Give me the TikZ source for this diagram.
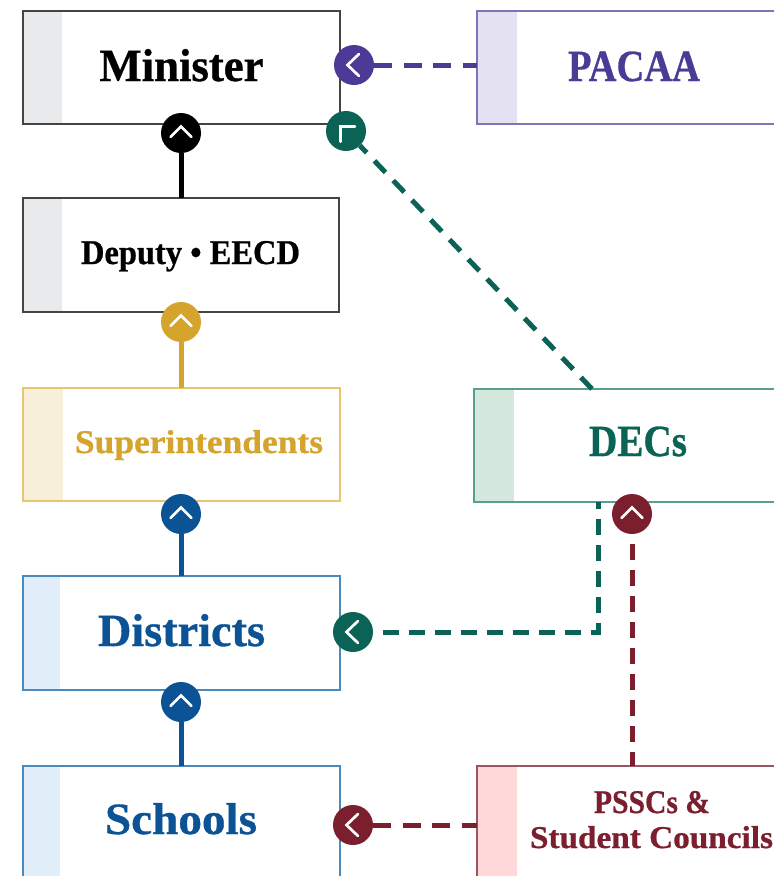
\documentclass[tikz,border=0pt]{standalone}
\usepackage{fontspec}
\usepackage{graphicx}
\setmainfont{Liberation Serif}[BoldFeatures={FakeBold=0.7}]
\definecolor{cblack}{HTML}{000000}
\definecolor{bblack}{HTML}{444444}
\definecolor{sblack}{HTML}{E9EAEC}
\definecolor{cpurple}{HTML}{4B3A96}
\definecolor{bpurple}{HTML}{7F74B5}
\definecolor{spurple}{HTML}{E3E1F2}
\definecolor{cgreen}{HTML}{0B6355}
\definecolor{bgreen}{HTML}{5A9E8E}
\definecolor{sgreen}{HTML}{D5E8DD}
\definecolor{cgold}{HTML}{D4A42C}
\definecolor{bgold}{HTML}{E6C670}
\definecolor{sgold}{HTML}{F7EFD9}
\definecolor{cblue}{HTML}{0B5394}
\definecolor{bblue}{HTML}{4A8BBF}
\definecolor{sblue}{HTML}{E2EEF9}
\definecolor{cmaroon}{HTML}{7B1F2E}
\definecolor{bmaroon}{HTML}{9B5560}
\definecolor{smaroon}{HTML}{FFD9D9}
\newcommand{\fitw}[3]{\resizebox{#1pt}{#2pt}{\bfseries #3}}
\newcommand{\chevup}[1]{\draw[chev] ([shift={(-10.5,4)}]#1.center) -- ([shift={(0,-6.5)}]#1.center) -- ([shift={(10.5,4)}]#1.center);}
\newcommand{\chevleft}[1]{\draw[chev] ([shift={(5,-11)}]#1.center) -- ([shift={(-6.5,0)}]#1.center) -- ([shift={(5,11)}]#1.center);}
\newcommand{\chevcorner}[1]{\draw[chev,line join=miter] ([shift={(-5.3,10.7)}]#1.center) -- ([shift={(-5.3,-4.3)}]#1.center) -- ([shift={(9,-4.3)}]#1.center);}
\tikzset{
  x=1pt,y=-1pt,
  boxnode/.style={draw=#1,rectangle,line width=1.1pt,anchor=north west,outer sep=0pt,inner sep=0pt},
  disc/.style={circle,fill=#1,minimum size=40pt,inner sep=0pt,outer sep=0pt},
  chev/.style={draw=white,line width=2.7pt,line cap=round,line join=miter},
  solidlink/.style={draw=#1,line width=5pt},
  dashlink/.style={draw=#1,line width=5pt,dash pattern=on 16pt off 10pt},
  dashdiag/.style={draw=#1,line width=5pt,dash pattern=on 16pt off 11.2pt,dash phase=6pt},
  dashwide/.style={draw=#1,line width=5pt,dash pattern=on 18pt off 11.5pt},
  label/.style={text=#1,inner sep=0pt,outer sep=0pt,anchor=base}
}
\begin{document}
\begin{tikzpicture}
\path[use as bounding box,clip] (0,0) rectangle (774,876);
\fill[white] (0,0) rectangle (774,876);
% strips
\fill[sblack] (23,11) rectangle (62,124);
\fill[spurple] (477,11) rectangle (517,124);
\fill[sblack] (23,198) rectangle (62,312);
\fill[sgold] (23,388) rectangle (63,501);
\fill[sgreen] (474,389) rectangle (514,502);
\fill[sblue] (23,576) rectangle (60,690);
\fill[sblue] (23,766) rectangle (60,900);
\fill[smaroon] (477,766) rectangle (517,900);
% boxes
\node[boxnode=bblack,minimum width=317pt,minimum height=113pt] (minister) at (23,11) {};
\node[boxnode=bpurple,minimum width=320pt,minimum height=113pt] (pacaa) at (477,11) {};
\node[boxnode=bblack,minimum width=316pt,minimum height=114pt] (deputy) at (23,198) {};
\node[boxnode=bgold,minimum width=317pt,minimum height=113pt] (super) at (23,388) {};
\node[boxnode=bgreen,minimum width=320pt,minimum height=113pt] (decs) at (474,389) {};
\node[boxnode=bblue,minimum width=317pt,minimum height=114pt] (districts) at (23,576) {};
\node[boxnode=bblue,minimum width=317pt,minimum height=134pt] (schools) at (23,766) {};
\node[boxnode=bmaroon,minimum width=320pt,minimum height=134pt] (pssc) at (477,766) {};
% labels
\node[label=black] (tminister) at (181.5,81) {\fitw{164}{32}{Minister}};
\node[label=cpurple] (tpacaa) at (634,81) {\fitw{132}{29.5}{PACAA}};
\node[label=black] (tdeputy) at (190.5,264) {\fitw{219}{23}{Deputy • EECD}};
\node[label=cgold] (tsuper) at (199,453) {\fitw{248}{23}{Superintendents}};
\node[label=cgreen] (tdecs) at (638,456) {\fitw{98}{29.5}{DECs}};
\node[label=cblue] (tdistricts) at (181.5,646) {\fitw{167}{32}{Districts}};
\node[label=cblue] (tschools) at (181,834) {\fitw{152}{31}{Schools}};
\node[label=cmaroon] (tpssc1) at (652,813) {\fitw{116}{22}{PSSCs \&}};
\node[label=cmaroon] (tpssc2) at (651.5,848) {\fitw{243}{22}{Student Councils}};
% badges
\node[disc=cpurple] (bpacaa) at (354,65) {};
\node[disc=cgreen] (bdec) at (346,131) {};
\node[disc=cblack] (bdep) at (181,133) {};
\node[disc=cgold] (bsup) at (181,322) {};
\node[disc=cblue] (bdist) at (181,514) {};
\node[disc=cblue] (bsch) at (181,702) {};
\node[disc=cgreen] (bdistdec) at (353,632) {};
\node[disc=cmaroon] (bpssc) at (632,514) {};
\node[disc=cmaroon] (bschpssc) at (353,825) {};
% free ends
\coordinate (dectop) at (592,389);
\coordinate (decbot) at (598,502);
\coordinate (decbend) at (598,632);
\coordinate (pssctop) at (632,766);
% connectors
\draw[solidlink=black] (bdep) -- (deputy.north -| bdep);
\draw[solidlink=cgold] (bsup) -- (super.north -| bsup);
\draw[solidlink=cblue] (bdist) -- (districts.north -| bdist);
\draw[solidlink=cblue] (bsch) -- (schools.north -| bsch);
\draw[dashwide=cpurple] (bpacaa) -- (pacaa.west |- bpacaa);
\draw[dashdiag=cgreen] (bdec) -- (dectop);
\draw[dashlink=cgreen,dash phase=16pt,line join=miter] (bdistdec) -- (decbend) -- (decbot);
\draw[dashlink=cmaroon,dash phase=16pt] (bpssc) -- (pssctop);
\draw[dashwide=cmaroon] (bschpssc) -- (pssc.west |- bschpssc);
% glyphs
\chevleft{bpacaa}
\chevcorner{bdec}
\chevup{bdep}
\chevup{bsup}
\chevup{bdist}
\chevup{bsch}
\chevleft{bdistdec}
\chevup{bpssc}
\chevleft{bschpssc}
\end{tikzpicture}
\end{document}
